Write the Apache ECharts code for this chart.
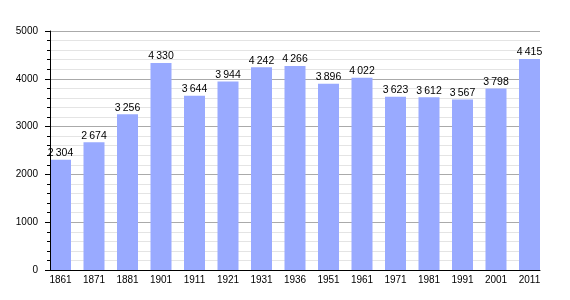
<!DOCTYPE html>
<html>
<head>
<meta charset="utf-8">
<script src="https://cdn.jsdelivr.net/npm/echarts@6/dist/echarts.min.js"></script>
<style>html,body{margin:0;padding:0;background:#fff}#c{width:570px;height:300px}</style>
</head>
<body>
<div id="c"></div>
<script>
const years = ['1861','1871','1881','1901','1911','1921','1931','1936','1951','1961','1971','1981','1991','2001','2011'];
const population = [2304,2674,3256,4330,3644,3944,4242,4266,3896,4022,3623,3612,3567,3798,4415];
const yTicks = [0,1000,2000,3000,4000,5000];

const font = 'Liberation Sans, Arial, sans-serif';
const chart = echarts.init(document.getElementById('c'), null, {renderer:'canvas'});
function fmt(v){ const s = String(v); return s.length > 3 ? s.slice(0, s.length-3) + '\u2009' + s.slice(-3) : s; }
const yMin = yTicks[0], yMax = yTicks[yTicks.length-1];
chart.setOption({
  animation:false,
  backgroundColor:'#fff',
  grid:[
    {left:50, right:30, top:31, bottom:30},
    {left:43.75, right:23.75, top:31, bottom:30}
  ],
  xAxis:[
    {type:'category', gridIndex:0, data:years, z:5,
     axisLine:{show:true, lineStyle:{color:'#000', width:1}},
     axisTick:{show:false}, axisLabel:{show:false}, splitLine:{show:false}},
    {type:'category', gridIndex:1, data:years,
     axisLine:{show:false}, axisTick:{show:false},
     axisLabel:{color:'#000', fontSize:10, fontFamily:font, margin:5}}
  ],
  yAxis:[
    {type:'value', gridIndex:0, position:'left', min:yMin, max:yMax, interval:1000,
     axisLine:{show:false}, axisTick:{show:false}, axisLabel:{show:false},
     minorTick:{show:false, splitNumber:5},
     splitLine:{show:true, lineStyle:{color:'#aaaaaa', width:1}},
     minorSplitLine:{show:true, lineStyle:{color:'#e4e4e4', width:1}}},
    {type:'value', gridIndex:1, min:yMin, max:yMax, show:false},
    {type:'value', gridIndex:0, position:'left', offset:0, min:yMin, max:yMax, interval:1000, z:5,
     axisLine:{show:true, onZero:false, lineStyle:{color:'#000', width:1}},
     axisTick:{show:true, length:5, lineStyle:{color:'#000'}},
     minorTick:{show:true, splitNumber:5, length:3, lineStyle:{color:'#000'}},
     axisLabel:{color:'#000', fontSize:10, fontFamily:font, margin:12, formatter:v=>String(v)},
     splitLine:{show:false}, minorSplitLine:{show:false}}
  ],
  series:[{
    type:'bar', xAxisIndex:1, yAxisIndex:1, data:population, barWidth:21, z:2,
    itemStyle:{color:'#99aaff'},
    label:{show:true, position:'top', distance:1, color:'#000', fontSize:10.5, fontFamily:font,
      formatter:p=>fmt(p.value)}
  }]
});
</script>
</body>
</html>
